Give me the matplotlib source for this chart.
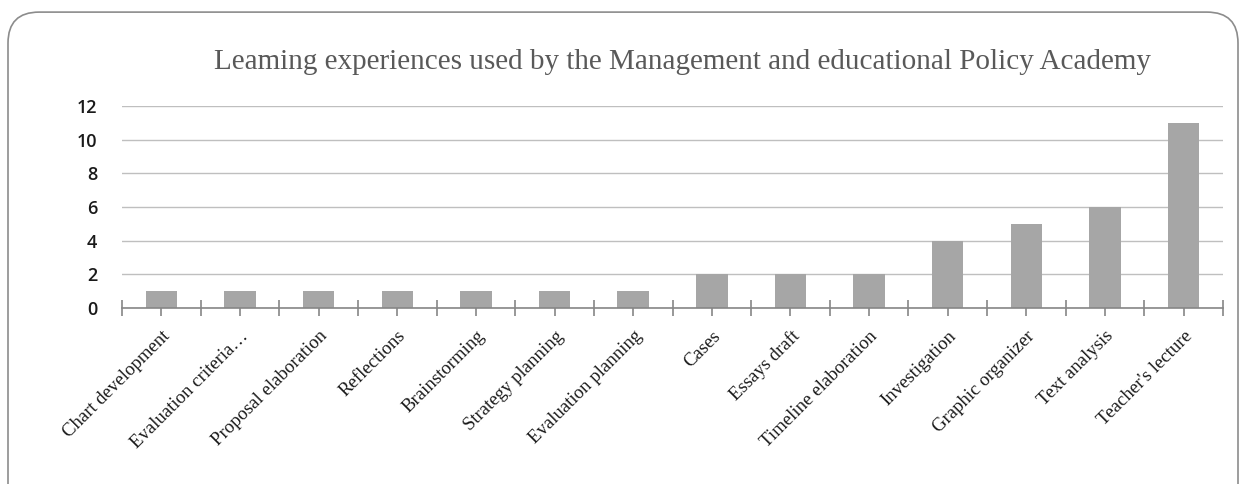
import numpy as np
import matplotlib.pyplot as plt
from matplotlib.patches import FancyBboxPatch

# Datos
categories = ["Chart development", "Evaluation criteria…", "Proposal elaboration",
              "Reflections", "Brainstorming", "Strategy planning", "Evaluation planning",
              "Cases", "Essays draft", "Timeline elaboration", "Investigation",
              "Graphic organizer", "Text analysis", "Teacher's lecture"]
values = [1, 1, 1, 1, 1, 1, 1, 2, 2, 2, 4, 5, 6, 11]
yticks = [0, 2, 4, 6, 8, 10, 12]
title = "Leaming experiences used by the Management and educational Policy Academy"

fig = plt.figure(figsize=(12.42, 4.84), dpi=100)

# marco redondeado (la parte de abajo queda cortada)
frame = FancyBboxPatch((8 / 1242, -0.2), 1230 / 1242, 1.175, transform=fig.transFigure,
                       boxstyle="round,pad=0,rounding_size=0.025", mutation_aspect=2.56,
                       facecolor="none", edgecolor="#8c8c8c", linewidth=1.2, zorder=-1)
fig.patches.append(frame)

ax = fig.add_axes([122 / 1242, 176 / 484, 1101 / 1242, 202 / 484])
ax.set_facecolor("none")

x = np.arange(len(categories))
ax.bar(x, values, width=0.4, color="#a6a6a6", zorder=3)

ax.set_xlim(-0.5, len(categories) - 0.5)
ax.set_ylim(0, 12)
ax.set_yticks(yticks)
ax.set_yticklabels([str(v) for v in yticks], fontfamily="Open Sans", fontsize=13,
                   fontweight="semibold", color="#1a1a1a")
ax.tick_params(axis="y", length=0, pad=18)
ax.grid(axis="y", color="#bfbfbf", linewidth=1, zorder=0)

for s in ["top", "right", "left"]:
    ax.spines[s].set_visible(False)
ax.spines["bottom"].set_color("#868686")
ax.spines["bottom"].set_linewidth(1.2)
ax.spines["bottom"].set_zorder(4)

# ticks mayores en los límites, menores en el centro de cada barra
ax.set_xticks(np.arange(-0.5, len(categories), 1.0))
ax.set_xticklabels([])
ax.tick_params(axis="x", which="major", direction="inout", length=12, color="#868686", width=1.2)
ax.set_xticks(x, minor=True)
ax.set_xticklabels(categories, minor=True, rotation=45, ha="right", rotation_mode="anchor",
                   fontfamily="Liberation Serif", fontsize=13.5, color="#1a1a1a")
ax.tick_params(axis="x", which="minor", direction="out", length=6, color="#868686",
               width=1.2, pad=8)

fig.text(683 / 1242, 1 - 62 / 484, title, ha="center", va="center",
         fontfamily="Liberation Serif", fontsize=21, color="#595959")

fig.savefig("out.png", dpi=100)
